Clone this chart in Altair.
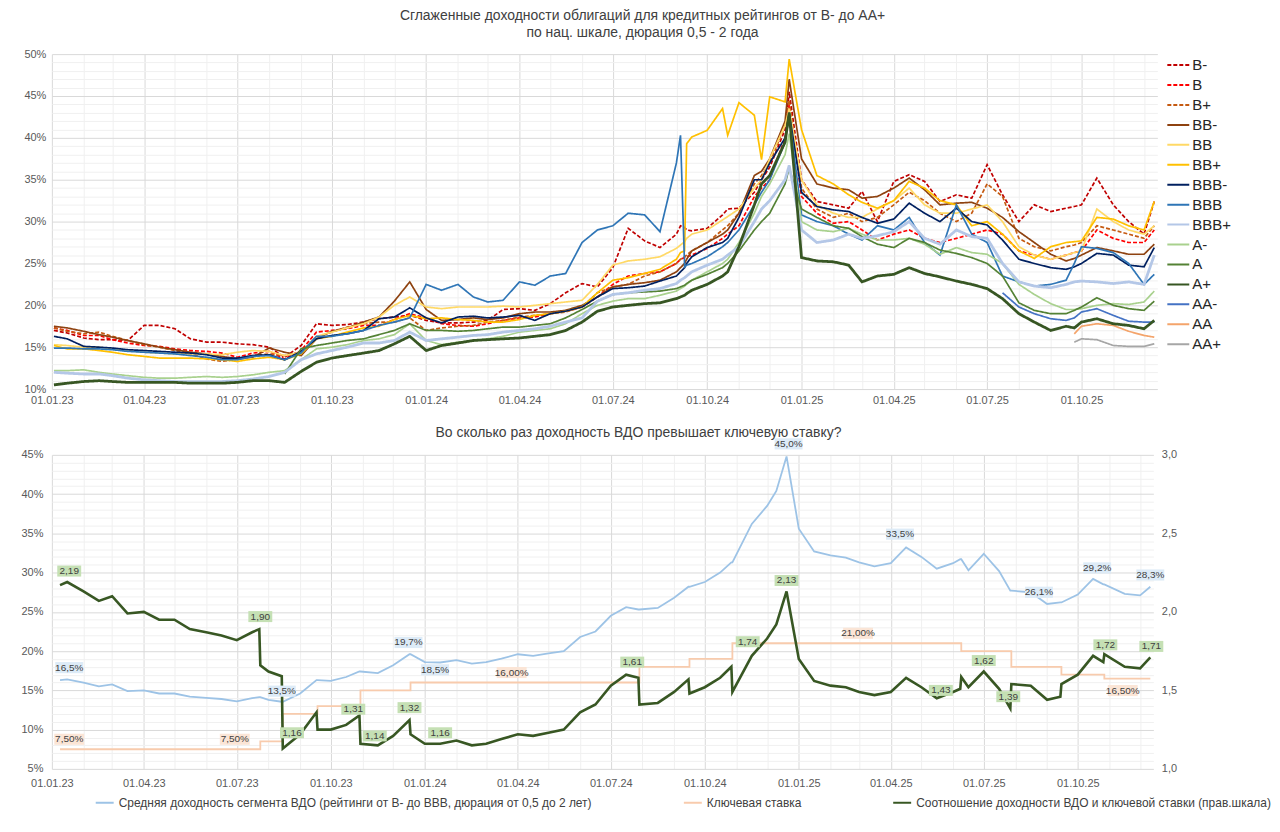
import altair as alt
import pandas as pd

FONT = "Liberation Sans"

# ---------------- top chart data ----------------
TOP_DATES_2023 = ["2023-01-03", "2023-01-16", "2023-02-01", "2023-02-16", "2023-03-01", "2023-03-16",
                  "2023-04-01", "2023-04-16", "2023-05-01", "2023-05-16", "2023-06-01", "2023-06-16",
                  "2023-07-01", "2023-07-16", "2023-08-01", "2023-08-16", "2023-09-01", "2023-09-16",
                  "2023-10-01", "2023-10-16", "2023-11-01", "2023-11-16", "2023-12-01", "2023-12-16"]
TOP_DATES_2024 = ["2024-01-01", "2024-01-16", "2024-02-01", "2024-02-16", "2024-03-01", "2024-03-16",
                  "2024-04-01", "2024-04-16", "2024-05-01", "2024-05-16", "2024-06-01", "2024-06-16",
                  "2024-07-01", "2024-07-16", "2024-08-01", "2024-08-16", "2024-09-01", "2024-09-05",
                  "2024-09-09", "2024-09-11", "2024-09-16", "2024-10-01", "2024-10-16", "2024-10-21",
                  "2024-11-01", "2024-11-16", "2024-11-23", "2024-12-01", "2024-12-16", "2024-12-20"]
TOP_DATES_2025 = ["2025-01-01", "2025-01-16", "2025-02-01", "2025-02-16", "2025-03-01", "2025-03-16",
                  "2025-04-01", "2025-04-16", "2025-05-01", "2025-05-16", "2025-06-01", "2025-06-16",
                  "2025-07-01", "2025-07-16", "2025-08-01", "2025-08-16", "2025-09-01", "2025-09-16",
                  "2025-09-24", "2025-10-01", "2025-10-16", "2025-11-01", "2025-11-16", "2025-12-01",
                  "2025-12-11"]
TOP_DATES = TOP_DATES_2023 + TOP_DATES_2024 + TOP_DATES_2025

RATINGS = ["B-", "B", "B+", "BB-", "BB", "BB+", "BBB-", "BBB", "BBB+", "A-", "A", "A+", "AA-", "AA", "AA+"]

Y_B_MINUS = ([17.0, 16.7, 16.1, 15.9, 15.9, 15.8, 17.6, 17.6, 17.2, 16.0, 15.6, 15.6, 15.4, 15.3, 15.0, 13.8, 15.2, 17.8, 17.6, 17.7, 18.0, 18.4, 18.6, 18.8]
             + [18.2, 17.9, 17.9, 18.0, 18.2, 19.5, 19.6, 19.4, 20.2, 21.5, 22.6, 22.2, 24.5, 29.2, 27.7, 26.9, 28.5, 29.5, 29.3, 29.0, 28.9, 29.2, 30.8, 31.5, 31.6, 33.5, 35.0, 36.5, 41.0, 45.5]
             + [35.0, 32.4, 32.0, 31.6, 33.6, 30.0, 34.8, 35.6, 34.8, 32.4, 33.2, 32.8, 36.8, 33.2, 30.0, 32.0, 31.2, 31.6, 31.8, 32.0, 35.2, 32.0, 30.0, 28.5, 32.4])
Y_B = ([17.3, 17.0, 16.4, 16.4, 15.9, 15.5, 15.2, 15.1, 14.8, 14.6, 14.5, 14.3, 13.8, 14.3, 14.5, 13.6, 14.6, 16.8, 17.0, 17.2, 17.6, 17.6, 18.3, 19.0]
       + [18.5, 17.8, 17.6, 17.5, 17.8, 18.2, 18.5, 18.6, 19.0, 19.3, 19.8, 21.0, 22.5, 23.5, 23.8, 24.0, 25.0, 25.5, 25.7, 25.8, 26.0, 26.8, 28.0, 28.5, 29.5, 33.0, 34.0, 35.0, 40.0, 44.0]
       + [33.0, 31.0, 29.8, 30.0, 29.0, 27.8, 28.5, 29.0, 28.0, 27.5, 28.0, 28.5, 29.0, 28.5, 26.5, 26.0, 25.5, 26.0, 26.3, 26.5, 29.0, 28.0, 27.5, 27.5, 29.0])
Y_B_PLUS = ([17.3, 16.9, 16.6, 16.8, 16.3, 15.8, 15.3, 15.0, 14.6, 14.2, 13.6, 13.3, 13.6, 14.0, 14.2, 14.0, 14.4, 16.2, 16.8, 17.4, 17.8, 18.0, 18.0, 18.5]
            + [17.0, 17.3, 17.5, 17.6, 18.0, 18.2, 18.6, 18.8, 19.0, 19.2, 19.8, 21.5, 22.2, 22.5, 23.5, 24.0, 25.0, 25.5, 25.8, 26.0, 26.5, 27.5, 29.0, 29.5, 31.0, 34.5, 35.5, 37.0, 41.5, 44.5]
            + [34.0, 31.5, 30.5, 31.0, 30.0, 30.5, 32.0, 33.5, 32.5, 31.0, 30.0, 31.0, 34.5, 33.0, 28.0, 27.0, 26.5, 27.0, 27.2, 27.5, 29.5, 29.0, 28.5, 28.0, 29.5])
Y_BB_MINUS = ([17.5, 17.3, 16.9, 16.5, 16.2, 15.8, 15.4, 15.0, 14.7, 14.4, 14.2, 13.9, 13.6, 13.8, 14.9, 14.4, 14.0, 16.0, 16.9, 17.3, 18.0, 18.6, 20.5, 22.8]
              + [19.5, 18.2, 18.3, 18.5, 18.3, 18.5, 19.0, 19.2, 19.2, 19.4, 20.0, 21.0, 22.2, 22.5, 22.7, 23.0, 24.0, 24.5, 25.0, 25.5, 26.5, 27.5, 28.5, 29.0, 31.0, 35.5, 36.0, 37.5, 42.0, 47.0]
              + [37.5, 34.5, 34.0, 33.8, 32.8, 33.0, 34.0, 35.2, 33.8, 32.0, 32.2, 32.3, 31.6, 30.5, 28.8, 27.5, 26.1, 25.3, 25.6, 26.0, 26.9, 26.5, 26.1, 26.1, 27.3])
Y_BB = ([15.3, 15.2, 15.0, 15.0, 14.8, 14.6, 14.4, 14.3, 14.2, 14.2, 14.2, 14.1, 14.4, 14.6, 14.5, 14.0, 14.4, 16.3, 16.8, 17.3, 17.8, 18.6, 20.0, 21.0]
        + [19.8, 19.6, 19.8, 19.8, 19.8, 19.9, 19.8, 20.0, 20.2, 20.4, 20.6, 22.5, 24.8, 25.3, 25.5, 25.8, 26.8, 27.2, 27.6, 28.0, 28.5, 29.0, 30.2, 30.6, 31.5, 34.0, 35.0, 37.5, 41.5, 43.5]
        + [35.0, 32.0, 31.0, 30.5, 30.5, 31.5, 32.5, 34.0, 32.0, 31.0, 31.0, 31.5, 32.0, 30.0, 27.0, 26.0, 25.5, 26.0, 26.3, 26.5, 31.5, 30.0, 29.0, 28.5, 29.5])
Y_BB_PLUS = ([15.2, 14.8, 14.8, 14.6, 14.4, 14.1, 13.9, 13.7, 13.7, 13.7, 13.6, 13.5, 13.3, 13.6, 13.8, 13.5, 14.2, 16.0, 16.3, 16.8, 17.3, 17.5, 18.3, 18.8]
             + [18.4, 18.5, 18.3, 18.2, 18.0, 18.0, 18.3, 18.8, 19.0, 19.3, 19.8, 21.5, 23.0, 23.3, 23.8, 24.3, 25.5, 26.3, 26.5, 39.3, 40.1, 40.9, 43.5, 40.3, 44.2, 42.7, 37.4, 44.9, 44.3, 49.4]
             + [41.0, 35.5, 34.5, 33.2, 32.3, 31.6, 32.5, 34.8, 34.0, 32.5, 32.0, 29.5, 30.0, 28.5, 26.5, 25.6, 27.0, 27.5, 27.6, 27.7, 30.5, 30.3, 29.5, 29.0, 32.4])
Y_BBB_MINUS = ([16.3, 16.0, 15.1, 15.0, 14.9, 14.7, 14.6, 14.5, 14.4, 14.3, 14.1, 13.7, 13.7, 14.0, 14.1, 13.5, 14.5, 16.0, 16.4, 16.6, 17.0, 18.4, 18.6, 19.7]
               + [18.5, 17.9, 18.6, 18.7, 18.5, 18.6, 18.8, 18.2, 19.0, 19.3, 19.8, 21.0, 22.0, 22.1, 22.3, 22.9, 23.5, 24.0, 24.5, 25.0, 25.8, 26.9, 27.5, 28.0, 30.5, 35.0, 35.0, 37.0, 40.0, 43.0]
               + [33.5, 31.8, 31.4, 31.2, 30.5, 29.8, 30.3, 32.2, 31.0, 30.0, 31.6, 30.0, 29.6, 27.8, 25.5, 25.0, 24.5, 24.3, 24.6, 25.0, 26.2, 26.0, 24.8, 24.6, 26.9])
Y_BBB = ([14.9, 14.9, 14.8, 14.8, 14.7, 14.5, 14.4, 14.3, 14.2, 14.0, 13.8, 13.5, 13.5, 13.9, 14.0, 13.5, 14.3, 16.3, 16.3, 16.6, 17.0, 17.6, 18.0, 18.5]
         + [22.5, 21.8, 22.5, 21.0, 20.4, 20.6, 22.8, 22.4, 23.5, 23.8, 27.5, 29.0, 29.5, 31.0, 30.8, 28.8, 37.0, 40.3, 24.6, 24.8, 25.0, 25.8, 27.0, 27.5, 29.0, 32.0, 33.5, 35.0, 39.5, 42.8]
         + [30.8, 30.0, 29.5, 28.5, 27.8, 29.5, 29.0, 30.5, 27.5, 26.0, 32.0, 28.5, 27.5, 23.5, 22.8, 22.3, 22.5, 23.0, 25.0, 27.0, 26.8, 26.3, 25.0, 22.5, 23.7])
Y_BBB_PLUS = ([12.0, 11.9, 11.8, 11.8, 11.6, 11.3, 11.1, 11.0, 10.9, 10.9, 10.9, 10.9, 11.0, 11.2, 11.5, 12.0, 13.5, 14.2, 14.6, 15.0, 15.5, 15.5, 15.8, 16.8]
              + [15.8, 16.0, 16.2, 16.4, 16.5, 16.8, 17.0, 17.2, 17.5, 18.0, 18.5, 20.5, 21.3, 21.5, 21.8, 22.0, 22.6, 23.0, 23.3, 23.5, 24.0, 24.8, 25.5, 26.0, 27.0, 30.0, 31.5, 32.5, 35.0, 36.7]
              + [29.0, 27.5, 27.8, 28.5, 28.0, 28.3, 28.8, 30.0, 28.0, 27.3, 29.0, 28.2, 28.0, 25.0, 22.8, 22.3, 22.1, 22.5, 22.8, 22.9, 22.8, 22.6, 22.8, 22.5, 26.0])
Y_A_MINUS = ([12.2, 12.2, 12.3, 12.0, 11.8, 11.6, 11.4, 11.3, 11.3, 11.4, 11.5, 11.4, 11.5, 11.7, 12.0, 12.2, 13.5, 14.8, 15.0, 15.3, 15.8, 16.0, 16.5, 17.8]
             + [15.8, 15.3, 15.6, 15.8, 16.0, 16.3, 16.8, 17.0, 17.2, 17.8, 19.0, 20.0, 20.5, 20.8, 20.8, 21.2, 21.7, 22.0, 22.3, 22.5, 23.0, 24.0, 25.0, 25.5, 27.5, 31.0, 33.0, 34.5, 38.0, 40.5]
             + [30.0, 29.0, 28.8, 29.2, 28.5, 27.8, 27.8, 28.0, 27.3, 26.1, 26.9, 26.3, 26.1, 25.0, 22.5, 21.3, 20.2, 19.5, 19.5, 19.6, 20.0, 20.2, 20.1, 20.4, 21.7])
Y_A = ([None] * 15 + [11.8, 14.8, 15.2, 15.5, 15.8, 16.0, 16.5, 17.0, 17.8]
       + [17.0, 17.0, 16.9, 17.0, 17.2, 17.4, 17.4, 17.6, 17.8, 18.5, 19.5, 20.5, 21.3, 21.5, 21.6, 21.7, 22.0, 22.2, 22.4, 22.6, 23.0, 23.7, 24.5, 25.0, 26.5, 29.0, 30.0, 31.0, 34.5, 36.4]
       + [31.5, 30.5, 29.5, 29.2, 28.2, 27.3, 26.9, 28.0, 27.5, 26.6, 26.2, 25.7, 25.0, 23.5, 20.3, 19.4, 19.0, 19.0, 19.4, 19.8, 20.9, 20.0, 19.6, 19.4, 20.5])
Y_A_PLUS = ([10.5, 10.7, 10.9, 11.0, 10.9, 10.8, 10.8, 10.8, 10.8, 10.7, 10.7, 10.7, 10.8, 11.0, 11.0, 10.8, 12.1, 13.2, 13.7, 14.0, 14.3, 14.6, 15.4, 16.3]
            + [14.6, 15.2, 15.5, 15.8, 15.9, 16.0, 16.1, 16.3, 16.5, 17.0, 18.0, 19.3, 19.8, 20.0, 20.2, 20.3, 20.8, 21.0, 21.2, 21.4, 21.8, 22.5, 23.5, 24.0, 27.0, 32.0, 34.5, 35.5, 39.5, 43.0]
            + [25.7, 25.3, 25.2, 24.8, 22.8, 23.5, 23.7, 24.5, 23.8, 23.4, 22.9, 22.5, 22.0, 20.8, 19.0, 18.0, 17.0, 17.5, 17.3, 18.0, 18.4, 17.8, 17.6, 17.2, 18.2])
Y_AA_MINUS = [None] * 24 + [None] * 30 + [None] * 13 + [21.5, 19.8, 19.0, 18.4, 18.2, 18.5, 19.2, 19.6, 18.8, 18.1, 18.0, 18.0]
Y_AA = [None] * 24 + [None] * 30 + [None] * 18 + [16.6, 17.5, 17.8, 17.6, 16.9, 16.4, 16.2]
Y_AA_PLUS = [None] * 24 + [None] * 30 + [None] * 18 + [15.6, 16.0, 15.9, 15.2, 15.1, 15.1, 15.4]

SERIES_VALUES = [Y_B_MINUS, Y_B, Y_B_PLUS, Y_BB_MINUS, Y_BB, Y_BB_PLUS, Y_BBB_MINUS, Y_BBB,
                 Y_BBB_PLUS, Y_A_MINUS, Y_A, Y_A_PLUS, Y_AA_MINUS, Y_AA, Y_AA_PLUS]

RATING_COLORS = ["#C00000", "#FF0000", "#C55A11", "#8E4210", "#FFD966", "#FFC000", "#002060", "#2E75B6",
                 "#B4C7E7", "#A9D18E", "#548235", "#375623", "#4472C4", "#F4A46B", "#A6A6A6"]
RATING_DASHES = [[4, 2], [4, 2], [4, 2]] + [[1, 0]] * 12
THICK = ["BBB+", "A+"]

# ---------------- bottom chart data ----------------
BOT_DATES_2023 = ["2023-01-09", "2023-01-16", "2023-02-01", "2023-02-16", "2023-03-01", "2023-03-16",
                  "2023-04-01", "2023-04-16", "2023-05-01", "2023-05-16", "2023-06-01", "2023-06-16",
                  "2023-07-01", "2023-07-16", "2023-07-23", "2023-07-24", "2023-08-01", "2023-08-14",
                  "2023-08-15", "2023-09-01", "2023-09-17", "2023-09-18", "2023-10-01", "2023-10-16",
                  "2023-10-29", "2023-10-30", "2023-11-16", "2023-12-01", "2023-12-17", "2023-12-18"]
BOT_DATES_2024 = ["2024-01-01", "2024-01-16", "2024-02-01", "2024-02-16", "2024-03-01", "2024-03-16",
                  "2024-04-01", "2024-04-16", "2024-05-01", "2024-05-16", "2024-06-01", "2024-06-16",
                  "2024-07-01", "2024-07-16", "2024-07-28", "2024-07-29", "2024-08-16", "2024-09-01",
                  "2024-09-15", "2024-09-16", "2024-10-01", "2024-10-16", "2024-10-27", "2024-10-28",
                  "2024-11-16", "2024-12-01", "2024-12-10", "2024-12-20"]
BOT_DATES_2025 = ["2025-01-01", "2025-01-16", "2025-02-01", "2025-02-16", "2025-03-01", "2025-03-16",
                  "2025-04-01", "2025-04-16", "2025-05-01", "2025-05-16", "2025-06-01", "2025-06-08",
                  "2025-06-09", "2025-06-16", "2025-07-01", "2025-07-16", "2025-07-27", "2025-07-28",
                  "2025-08-16", "2025-09-01", "2025-09-14", "2025-09-15", "2025-10-01", "2025-10-16",
                  "2025-10-26", "2025-10-27", "2025-11-16", "2025-12-01", "2025-12-11"]
BOT_DATES = BOT_DATES_2023 + BOT_DATES_2024 + BOT_DATES_2025

AVG_YIELD = ([16.3, 16.4, 16.0, 15.5, 15.75, 14.9, 15.0, 14.6, 14.6, 14.2, 14.05, 13.9, 13.6, 14.0, 14.15, 14.15, 13.8, 13.55, 13.55, 14.6, 16.3, 16.3, 16.2, 16.7, 17.4, 17.4, 17.2, 18.2, 19.6, 19.6]
             + [18.6, 18.55, 18.85, 18.4, 18.6, 19.05, 19.6, 19.4, 19.7, 20.0, 21.8, 22.5, 24.5, 25.6, 25.3, 25.3, 25.5, 26.8, 28.2, 28.2, 28.8, 30.0, 31.3, 31.3, 36.2, 38.5, 40.4, 44.8]
             + [35.6, 32.7, 32.2, 31.9, 31.3, 30.8, 31.2, 33.2, 32.0, 30.5, 31.2, 31.7, 31.7, 30.3, 32.4, 30.2, 27.7, 27.7, 27.5, 26.0, 26.2, 26.2, 27.2, 29.2, 28.5, 28.5, 27.3, 27.1, 28.2])
RATIO = ([2.17, 2.19, 2.13, 2.07, 2.10, 1.99, 2.0, 1.95, 1.95, 1.89, 1.87, 1.85, 1.82, 1.87, 1.89, 1.66, 1.62, 1.59, 1.13, 1.22, 1.36, 1.25, 1.25, 1.28, 1.34, 1.16, 1.15, 1.21, 1.31, 1.22]
         + [1.16, 1.16, 1.18, 1.15, 1.16, 1.19, 1.22, 1.21, 1.23, 1.25, 1.36, 1.41, 1.53, 1.60, 1.58, 1.41, 1.42, 1.49, 1.57, 1.48, 1.52, 1.58, 1.65, 1.49, 1.72, 1.83, 1.92, 2.13]
         + [1.70, 1.56, 1.53, 1.52, 1.49, 1.47, 1.49, 1.58, 1.52, 1.45, 1.49, 1.51, 1.585, 1.52, 1.62, 1.51, 1.385, 1.54, 1.53, 1.44, 1.46, 1.54, 1.60, 1.72, 1.68, 1.73, 1.65, 1.64, 1.71])

KEY_DATES = ["2023-01-09", "2023-07-24", "2023-08-15", "2023-09-18", "2023-10-30", "2023-12-18", "2024-07-29",
             "2024-09-16", "2024-10-28", "2025-06-09", "2025-07-28", "2025-09-15", "2025-10-27", "2025-12-11"]
KEY_RATE = [7.5, 8.5, 12, 13, 15, 16, 18, 19, 21, 20, 18, 17, 16.5, 16.5]

YIELD_LABEL_DATES = ["2023-01-18", "2023-08-14", "2023-12-16", "2024-01-11", "2024-12-22", "2025-04-10",
                     "2025-08-24", "2025-10-20", "2025-12-11"]
YIELD_LABEL_VALUES = [16.5, 13.5, 19.7, 18.5, 45.0, 33.5, 26.1, 29.2, 28.3]
YIELD_LABEL_SIDE = ["above", "above", "above", "below", "above", "above", "above", "above", "above"]

RATIO_LABEL_DATES = ["2023-01-18", "2023-07-24", "2023-08-24", "2023-10-23", "2023-11-13", "2023-12-17",
                     "2024-01-16", "2024-07-22", "2024-11-12", "2024-12-20", "2025-05-20", "2025-07-01",
                     "2025-07-25", "2025-10-28", "2025-12-12"]
RATIO_LABEL_VALUES = [2.19, 1.90, 1.16, 1.31, 1.14, 1.32, 1.16, 1.61, 1.74, 2.13, 1.43, 1.62, 1.39, 1.72, 1.71]

KEY_LABEL_DATES = ["2023-01-18", "2023-06-29", "2024-03-26", "2025-02-28", "2025-11-14"]
KEY_LABEL_VALUES = [7.5, 7.5, 16.0, 21.0, 16.5]
KEY_LABEL_SIDE = ["above", "above", "above", "above", "below"]

NAME_YIELD = "Средняя доходность сегмента ВДО (рейтинги от В- до ВВВ, дюрация от 0,5 до 2 лет)"
NAME_KEY = "Ключевая ставка"
NAME_RATIO = "Соотношение доходности ВДО и ключевой ставки (прав.шкала)"
LEGEND_COLORS = ["#9DC3E6", "#F8CBAD", "#385723"]

# ---------------- build frames ----------------
rows = []
for name, vals in zip(RATINGS, SERIES_VALUES):
    for d, v in zip(TOP_DATES, vals):
        if v is not None:
            rows.append({"date": d, "rating": name, "yield": v})
top_df = pd.DataFrame(rows)

yield_df = pd.DataFrame({"date": BOT_DATES, "value": AVG_YIELD, "name": NAME_YIELD})
ratio_df = pd.DataFrame({"date": BOT_DATES, "value": RATIO, "name": NAME_RATIO})
key_df = pd.DataFrame({"date": KEY_DATES, "value": KEY_RATE, "name": NAME_KEY})

yl_df = pd.DataFrame({"date": YIELD_LABEL_DATES, "value": YIELD_LABEL_VALUES, "side": YIELD_LABEL_SIDE,
                      "label": [f"{v:.1f}%".replace(".", ",") for v in YIELD_LABEL_VALUES]})
rl_df = pd.DataFrame({"date": RATIO_LABEL_DATES, "value": RATIO_LABEL_VALUES,
                      "label": [f"{v:.2f}".replace(".", ",") for v in RATIO_LABEL_VALUES]})
kl_df = pd.DataFrame({"date": KEY_LABEL_DATES, "value": KEY_LABEL_VALUES, "side": KEY_LABEL_SIDE,
                      "label": [f"{v:.2f}%".replace(".", ",") for v in KEY_LABEL_VALUES]})

# ---------------- axes ----------------
MONTHS = [alt.DateTime(year=y, month=m, date=1, utc=True) for y in (2023, 2024, 2025) for m in range(1, 13)]
X_DOMAIN = [alt.DateTime(year=2023, month=1, date=1, utc=True), alt.DateTime(year=2025, month=12, date=14, utc=True)]
MAJOR = "#d9d9d9"
MINOR = "#f0f0f0"


def x_axis(pad):
    return alt.Axis(values=MONTHS, title=None, ticks=False, domain=False, labelOverlap=False, labelFlush=False,
                    labelExpr="utcmonth(datum.value) % 3 == 0 ? utcFormat(datum.value, '%d.%m.%y') : ''",
                    labelFontSize=11, labelColor="#595959", labelFont=FONT, labelPadding=pad,
                    gridColor={"condition": {"test": "utcmonth(datum.value) % 3 == 0", "value": MAJOR},
                               "value": MINOR})


def pct_axis(lo, hi, pad):
    return alt.Axis(values=list(range(lo, hi + 1)), title=None, ticks=False, domain=False, labelOverlap=False,
                    labelExpr="datum.value % 5 == 0 ? datum.value + '%' : ''",
                    labelFontSize=11, labelColor="#595959", labelFont=FONT, labelPadding=pad,
                    gridColor={"condition": {"test": "datum.value % 5 == 0", "value": MAJOR}, "value": MINOR})


# ---------------- top chart ----------------
top_legend = alt.Legend(orient="none", legendX=1118, legendY=-1, title=None, labelFontSize=15,
                        labelColor="#262626", labelFont=FONT, symbolType="stroke", symbolSize=484,
                        symbolStrokeWidth=2, rowPadding=0, labelOffset=2)

top_base = alt.Chart(top_df).encode(
    x=alt.X("date:T", scale=alt.Scale(domain=X_DOMAIN), axis=x_axis(5)),
    y=alt.Y("yield:Q", scale=alt.Scale(domain=[10, 50]), axis=pct_axis(10, 50, 6)),
    color=alt.Color("rating:N", scale=alt.Scale(domain=RATINGS, range=RATING_COLORS), legend=top_legend),
    strokeDash=alt.StrokeDash("rating:N", scale=alt.Scale(domain=RATINGS, range=RATING_DASHES), legend=top_legend),
    detail="rating:N",
)
thin = top_base.mark_line(strokeWidth=1.7, clip=True).transform_filter(
    alt.FieldOneOfPredicate(field="rating", oneOf=[r for r in RATINGS if r not in THICK]))
thick = top_base.mark_line(strokeWidth=2.8, clip=True).transform_filter(
    alt.FieldOneOfPredicate(field="rating", oneOf=THICK))

top = alt.layer(thin, thick).properties(
    width=1109, height=336,
    title=alt.TitleParams(["Сглаженные доходности облигаций для кредитных рейтингов от В- до АА+",
                           "по нац. шкале, дюрация 0,5 - 2 года"],
                          fontSize=14, font=FONT, fontWeight="normal", color="#404040", anchor="middle",
                          offset=10, dx=38, dy=2, lineHeight=17))

# ---------------- bottom chart ----------------
bottom_legend = alt.Legend(orient="none", legendX=43, legendY=339, direction="horizontal", title=None,
                           labelFontSize=12, labelColor="#404040", labelFont=FONT, symbolType="stroke",
                           symbolSize=324, symbolStrokeWidth=2, columnPadding=88, labelLimit=700)
leg_color = alt.Color("name:N", scale=alt.Scale(domain=[NAME_YIELD, NAME_KEY, NAME_RATIO], range=LEGEND_COLORS),
                      legend=bottom_legend)
xb = alt.X("date:T", scale=alt.Scale(domain=X_DOMAIN), axis=x_axis(9))
yl_scale = alt.Scale(domain=[5, 45])
yr_scale = alt.Scale(domain=[1, 3])
LEFT_AXIS = pct_axis(5, 45, 9)

yield_line = alt.Chart(yield_df).mark_line(strokeWidth=1.8).encode(
    x=xb, y=alt.Y("value:Q", scale=yl_scale, axis=LEFT_AXIS), color=leg_color)
key_line = alt.Chart(key_df).mark_line(interpolate="step-after", strokeWidth=1.8).encode(
    x=xb, y=alt.Y("value:Q", scale=yl_scale, axis=LEFT_AXIS), color=leg_color)
left_group = alt.layer(yield_line, key_line)

right_axis = alt.Axis(values=[1.0, 1.5, 2.0, 2.5, 3.0], orient="right", title=None, ticks=False, domain=False,
                      grid=False, labelExpr="replace(format(datum.value, '.1f'), '.', ',')",
                      labelFontSize=11, labelColor="#595959", labelFont=FONT, labelPadding=8)
ratio_line = alt.Chart(ratio_df).mark_line(strokeWidth=2.6).encode(
    x=xb, y=alt.Y("value:Q", scale=yr_scale, axis=right_axis), color=leg_color)


def labels(df, scale, shape, size, fill, offset):
    base = alt.Chart(df).encode(x=xb, y=alt.Y("value:Q", scale=scale, axis=None))
    box = base.mark_point(shape=shape, size=size, filled=True, fill=fill, opacity=1, strokeWidth=0,
                          yOffset=offset)
    txt = base.mark_text(fontSize=10, font=FONT, color="#404040", yOffset=offset).encode(text="label:N")
    return box + txt


YBOX = "M-1,-0.4H1V0.4H-1Z"
RBOX = "M-1,-0.46H1V0.46H-1Z"
KBOX = "M-1,-0.37H1V0.37H-1Z"

yl_above = labels(yl_df[yl_df.side == "above"], yl_scale, YBOX, 784, "#DDEBF7", -11)
yl_below = labels(yl_df[yl_df.side == "below"], yl_scale, YBOX, 784, "#DDEBF7", 7)
kl_above = labels(kl_df[kl_df.side == "above"], yl_scale, KBOX, 900, "#FBE5D6", -10)
kl_below = labels(kl_df[kl_df.side == "below"], yl_scale, KBOX, 900, "#FBE5D6", 12)
rl_all = labels(rl_df, yr_scale, RBOX, 576, "#C5E0B4", -11)

label_group = alt.layer(yl_above, yl_below, kl_above, kl_below)

bottom = alt.layer(left_group, ratio_line, label_group, rl_all).resolve_scale(y="independent").properties(
    width=1105, height=315,
    title=alt.TitleParams("Во сколько раз доходность ВДО превышает ключевую ставку?", fontSize=14, font=FONT,
                          fontWeight="normal", color="#404040", anchor="middle", offset=-2, dx=36))

chart = alt.vconcat(top, bottom, spacing=21).resolve_scale(
    color="independent", strokeDash="independent", x="independent"
).resolve_legend(color="independent", strokeDash="independent").properties(
    padding={"left": 12, "top": 0, "right": 0, "bottom": 0}, background="white"
).configure_view(stroke=None)

chart.save("out.html", embed_options={"renderer": "svg", "actions": False})
